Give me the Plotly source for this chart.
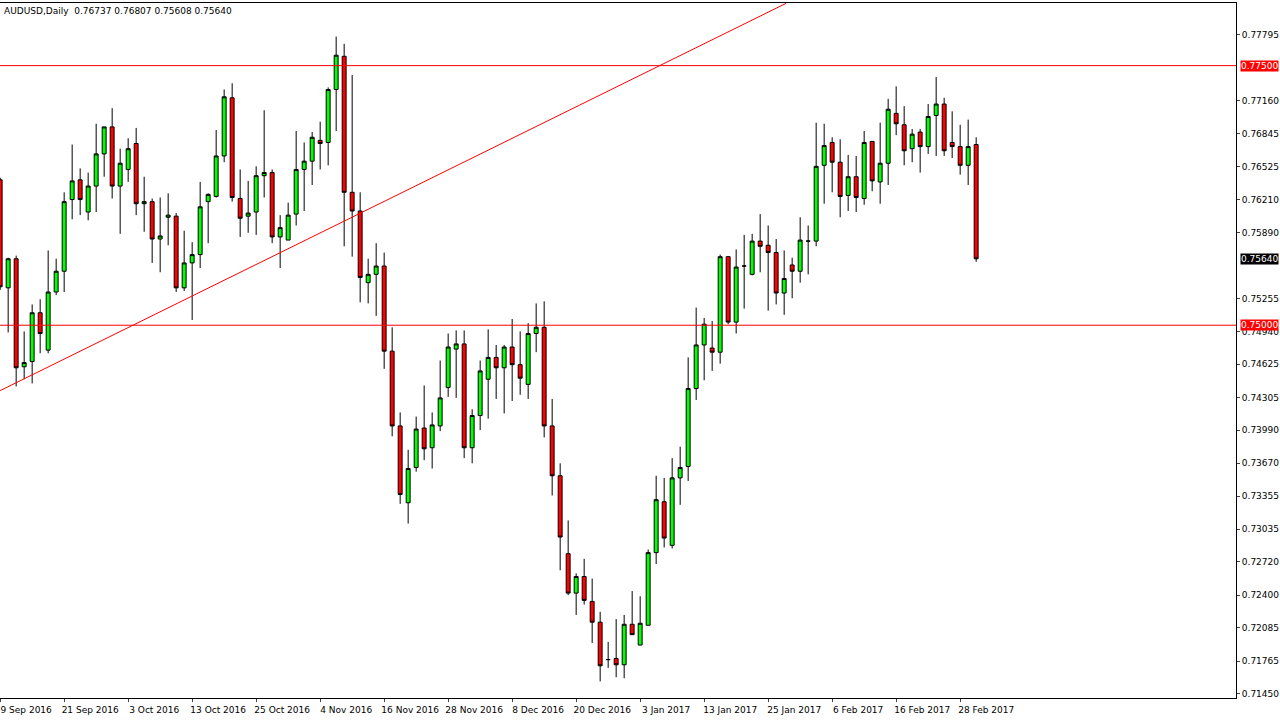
import plotly.graph_objects as go
import pandas as pd

opens = [0.7640,0.7536,0.7564,0.7460,0.7465,0.7512,0.7476,0.7532,0.7552,0.7621,0.7640,0.7609,0.7634,0.7665,0.7691,0.7634,0.7650,0.7675,0.7617,0.7619,0.7583,0.7604,0.7605,0.7536,0.7560,0.7568,
 0.7619,0.7624,0.7663,0.7719,0.7622,0.7605,0.7609,0.7644,0.7647,0.7585,0.7582,0.7607,0.7650,0.7658,0.7678,0.7676,0.7727,0.7759,0.7628,0.7610,0.7541,0.7549,0.7557,
 0.7475,0.7403,0.7329,0.7363,0.7401,0.7382,0.7403,0.7440,0.7477,0.7482,0.7382,0.7413,0.7448,0.7469,0.7459,0.7479,0.7462,0.7443,0.7492,0.7498,0.7403,0.7355,0.7280,0.7242,
 0.7258,0.7234,0.7214,0.7178,0.7179,0.7173,0.7212,0.7192,0.7211,0.7281,0.7330,0.7288,0.7353,0.7364,0.7439,0.7481,0.7478,0.7474,0.7566,0.7503,0.7557,0.7549,0.7581,0.7577,
 0.7570,0.7531,0.7558,0.7552,0.7581,0.7581,0.7654,0.7676,0.7657,0.7625,0.7643,0.7622,0.7677,0.7638,0.7656,0.7704,0.7693,0.7670,0.7686,0.7672,0.7702,0.7713,0.7676,0.7672,0.7654,0.7674]
highs = [0.7642,0.7565,0.7567,0.7494,0.7520,0.7525,0.7572,0.7564,0.7628,0.7674,0.7651,0.7647,0.7694,0.7691,0.7709,0.7670,0.7680,0.7690,0.7643,0.7622,0.7623,0.7627,0.7608,0.7591,0.7580,0.7638,
 0.7627,0.7688,0.7727,0.7733,0.7650,0.7639,0.7653,0.7707,0.7650,0.7606,0.7618,0.7687,0.7676,0.7686,0.7696,0.7729,0.7778,0.7771,0.7741,0.7628,0.7564,0.7579,0.7570,
 0.7498,0.7416,0.7380,0.7412,0.7442,0.7416,0.7466,0.7492,0.7495,0.7495,0.7419,0.7466,0.7496,0.7481,0.7481,0.7506,0.7494,0.7502,0.7521,0.7523,0.7429,0.7367,0.7312,0.7261,
 0.7275,0.7256,0.7224,0.7195,0.7217,0.7221,0.7244,0.7239,0.7284,0.7355,0.7353,0.7372,0.7383,0.7469,0.7517,0.7507,0.7504,0.7568,0.7566,0.7573,0.7587,0.7588,0.7607,0.7596,
 0.7583,0.7572,0.7565,0.7604,0.7596,0.7695,0.7694,0.7681,0.7679,0.7664,0.7663,0.7687,0.7677,0.7695,0.7718,0.7730,0.7711,0.7689,0.7689,0.7713,0.7739,0.7719,0.7706,0.7693,0.7698,0.7681]
lows = [0.7534,0.7493,0.7441,0.7448,0.7444,0.7473,0.7473,0.7529,0.7532,0.7602,0.7606,0.7601,0.7609,0.7643,0.7622,0.7588,0.7638,0.7606,0.7590,0.7560,0.7551,0.7577,0.7532,0.7533,0.7505,0.7555,
 0.7579,0.7623,0.7657,0.7619,0.7585,0.7589,0.7587,0.7623,0.7579,0.7555,0.7582,0.7596,0.7610,0.7635,0.7650,0.7654,0.7687,0.7576,0.7566,0.7522,0.7521,0.7509,0.7458,
 0.7393,0.7328,0.7309,0.7359,0.7370,0.7362,0.7398,0.7431,0.7430,0.7372,0.7367,0.7399,0.7410,0.7429,0.7415,0.7427,0.7433,0.7429,0.7474,0.7392,0.7336,0.7264,0.7240,0.7221,
 0.7231,0.7194,0.7157,0.7170,0.7161,0.7160,0.7202,0.7192,0.7211,0.7270,0.7286,0.7285,0.7327,0.7350,0.7428,0.7447,0.7456,0.7463,0.7501,0.7492,0.7516,0.7548,0.7551,0.7514,
 0.7520,0.7510,0.7526,0.7541,0.7549,0.7576,0.7617,0.7628,0.7604,0.7610,0.7609,0.7616,0.7629,0.7617,0.7635,0.7683,0.7654,0.7657,0.7647,0.7665,0.7663,0.7663,0.7661,0.7645,0.7635,0.7561]
closes = [0.7537,0.7564,0.7459,0.7464,0.7512,0.7492,0.7532,0.7552,0.7619,0.7639,0.7621,0.7634,0.7665,0.7691,0.7634,0.7656,0.7670,0.7617,0.7619,0.7583,0.7586,0.7606,0.7536,0.7560,0.7568,0.7614,
 0.7626,0.7663,0.7720,0.7623,0.7603,0.7608,0.7644,0.7647,0.7585,0.7594,0.7606,0.7650,0.7658,0.7681,0.7675,0.7727,0.7760,0.7628,0.7610,0.7546,0.7549,0.7557,0.7475,
 0.7403,0.7337,0.7362,0.7400,0.7381,0.7404,0.7430,0.7479,0.7482,0.7382,0.7413,0.7456,0.7469,0.7459,0.7479,0.7462,0.7449,0.7492,0.7498,0.7403,0.7355,0.7296,0.7242,0.7258,
 0.7235,0.7214,0.7172,0.7178,0.7173,0.7212,0.7202,0.7213,0.7281,0.7332,0.7295,0.7353,0.7363,0.7439,0.7481,0.7501,0.7474,0.7566,0.7503,0.7556,0.7557,0.7581,0.7576,0.7570,
 0.7531,0.7545,0.7552,0.7582,0.7581,0.7653,0.7673,0.7657,0.7624,0.7643,0.7623,0.7676,0.7639,0.7656,0.7708,0.7694,0.7668,0.7684,0.7672,0.7701,0.7713,0.7668,0.7672,0.7654,0.7672,0.7564]

holidays = ["2016-12-26", "2017-01-02"]
dates = [d for d in pd.bdate_range("2016-09-09", periods=130) if d.strftime("%Y-%m-%d") not in holidays][:len(opens)]
labels = [f"{d.day} {d.strftime('%b %Y')}" for d in dates]
idx = list(range(len(opens)))

price_ticks = [0.77795,0.77160,0.76845,0.76525,0.76210,0.75890,0.75255,0.74940,0.74625,0.74305,
               0.73990,0.73670,0.73355,0.73035,0.72720,0.72400,0.72085,0.71765,0.71450]
levels = [0.7750, 0.7500]
last_price = 0.75640
trend_pts = ([0.0, 98.25], [0.7437, 0.7810])

FONT = dict(size=9, family="DejaVu Sans", color="black")

fig = go.Figure(go.Candlestick(
    x=idx, open=opens, high=highs, low=lows, close=closes,
    increasing=dict(fillcolor="#00ff00", line=dict(color="black", width=1)),
    decreasing=dict(fillcolor="#ff0000", line=dict(color="black", width=1)),
    whiskerwidth=0, showlegend=False, hoverinfo="skip"))

for lv in levels:
    fig.add_hline(y=lv, line=dict(color="#ff0000", width=1))
    fig.add_annotation(x=1, xref="paper", xanchor="left", y=lv, yref="y", text=f"{lv:.5f}",
                       showarrow=False, bgcolor="#ff0000", font=dict(FONT, color="white"),
                       borderpad=0, xshift=4)
fig.add_annotation(x=1, xref="paper", xanchor="left", y=last_price, yref="y", text=f"{last_price:.5f}",
                   showarrow=False, bgcolor="black", font=dict(FONT, color="white"),
                   borderpad=0, xshift=4)
fig.add_shape(type="line", x0=trend_pts[0][0], x1=trend_pts[0][1], y0=trend_pts[1][0], y1=trend_pts[1][1],
              xref="x", yref="y", line=dict(color="#ff0000", width=1))
fig.add_annotation(x=0, xref="paper", y=1, yref="paper", xanchor="left", yanchor="top",
                   text="AUDUSD,Daily  0.76737 0.76807 0.75608 0.75640", showarrow=False,
                   font=FONT, xshift=2, yshift=-1)

fig.update_layout(
    width=1280, height=720, margin=dict(l=0, r=44, t=3, b=22, autoexpand=False),
    paper_bgcolor="white", plot_bgcolor="white",
    xaxis=dict(range=[-0.02, 154.48], rangeslider=dict(visible=False), tickmode="array",
               tickvals=idx[::8], ticktext=labels[::8], showgrid=False, zeroline=False,
               showline=True, linecolor="black", mirror=True, ticks="outside", ticklen=3,
               tickangle=0, automargin=False, ticklabelshift=26, tickfont=FONT),
    yaxis=dict(range=[0.71410, 0.78103], side="right", tickmode="array", tickvals=price_ticks,
               ticktext=[f"{v:.5f}" for v in price_ticks], showgrid=False, zeroline=False,
               showline=True, linecolor="black", mirror=True, ticks="outside", ticklen=3,
               automargin=False, tickfont=FONT),
)
fig.write_html("out.html", config={"displayModeBar": False},
               post_script="document.body.style.margin='0';document.body.style.overflow='hidden';")
